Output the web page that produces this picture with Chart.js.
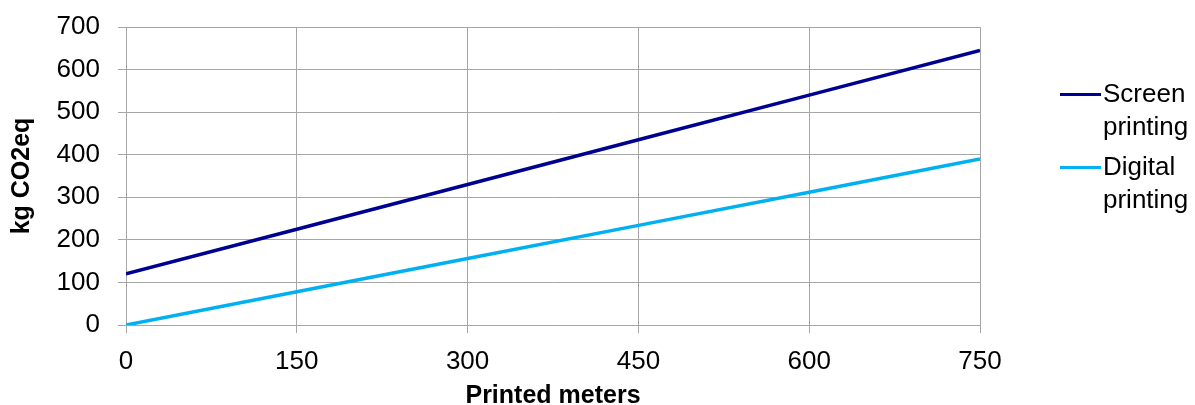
<!DOCTYPE html>
<html>
<head>
<meta charset="utf-8">
<script src="https://cdn.jsdelivr.net/npm/chart.js@4/dist/chart.umd.min.js"></script>
<style>
  html, body { margin: 0; padding: 0; background: #fff; }
  #wrap { position: relative; width: 1195px; height: 405px; }
  #legend { position: absolute; left: 1060px; top: 77px; font-family: "Liberation Sans", Arial, sans-serif; font-size: 26px; color: #000; line-height: 33px; }
  .item { position: relative; padding-left: 43px; margin-bottom: 7px; }
  .swatch { position: absolute; left: 0; top: 16px; width: 41px; height: 3px; }
</style>
</head>
<body>
<div id="wrap">
  <canvas id="c" width="1195" height="405"></canvas>
  <div id="legend"></div>
</div>
<script>
const seriesNames = ["Screen printing", "Digital printing"];
const legendLines = [["Screen", "printing"], ["Digital", "printing"]];
const seriesColors = ["#000090", "#00B0F0"];
const meters = [0, 150, 300, 450, 600, 750];
const screenValues = [120, 225, 330, 435, 540, 645];
const digitalValues = [0, 78, 156, 234, 312, 390];
const xTicks = [0, 150, 300, 450, 600, 750];
const yTicks = [0, 100, 200, 300, 400, 500, 600, 700];

const FONT = "'Liberation Sans', Arial, sans-serif";
const gridColor = "#a6a6a6";

function pts(vals) { return meters.map((m, i) => ({ x: m, y: vals[i] })); }

const lg = document.getElementById('legend');
legendLines.forEach((lines, i) => {
  const d = document.createElement('div');
  d.className = 'item';
  d.innerHTML = '<span class="swatch" style="background:' + seriesColors[i] + '"></span>' + lines.join('<br>');
  lg.appendChild(d);
});

new Chart(document.getElementById('c'), {
  type: 'line',
  data: {
    datasets: [
      { label: seriesNames[0], data: pts(screenValues), borderColor: seriesColors[0], backgroundColor: seriesColors[0], borderWidth: 3.5, pointRadius: 0, tension: 0 },
      { label: seriesNames[1], data: pts(digitalValues), borderColor: seriesColors[1], backgroundColor: seriesColors[1], borderWidth: 3.5, pointRadius: 0, tension: 0 }
    ]
  },
  options: {
    responsive: false,
    animation: false,
    layout: { padding: { top: 27, right: 215, left: 0, bottom: 0 } },
    plugins: { legend: { display: false }, tooltip: { enabled: false } },
    scales: {
      x: {
        type: 'linear', min: 0, max: 750,
        afterBuildTicks: (s) => { s.ticks = xTicks.map(v => ({ value: v })); },
        afterFit: (s) => { s.height = 80; s.paddingLeft = 0; s.paddingRight = 0; },
        grid: { color: gridColor, lineWidth: 1, tickLength: 8, drawTicks: true },
        border: { color: gridColor, width: 1 },
        ticks: { color: '#000', font: { family: FONT, size: 26 }, padding: 13, maxRotation: 0 },
        title: { display: true, text: 'Printed meters', color: '#000', font: { family: FONT, size: 25, weight: 'bold', lineHeight: 1 }, padding: { top: 0, bottom: -4 } }
      },
      y: {
        min: 0, max: 700,
        afterBuildTicks: (s) => { s.ticks = yTicks.map(v => ({ value: v })); },
        afterFit: (s) => { s.width = 126; s.paddingTop = 0; s.paddingBottom = 0; },
        grid: { color: gridColor, lineWidth: 1, tickLength: 8, drawTicks: true },
        border: { color: gridColor, width: 1 },
        ticks: { color: '#000', font: { family: FONT, size: 26 }, padding: 18 },
        title: { display: true, text: 'kg CO2eq', color: '#000', font: { family: FONT, size: 25, weight: 'bold' }, padding: { top: 7, bottom: 0 } }
      }
    }
  }
});
</script>
</body>
</html>
